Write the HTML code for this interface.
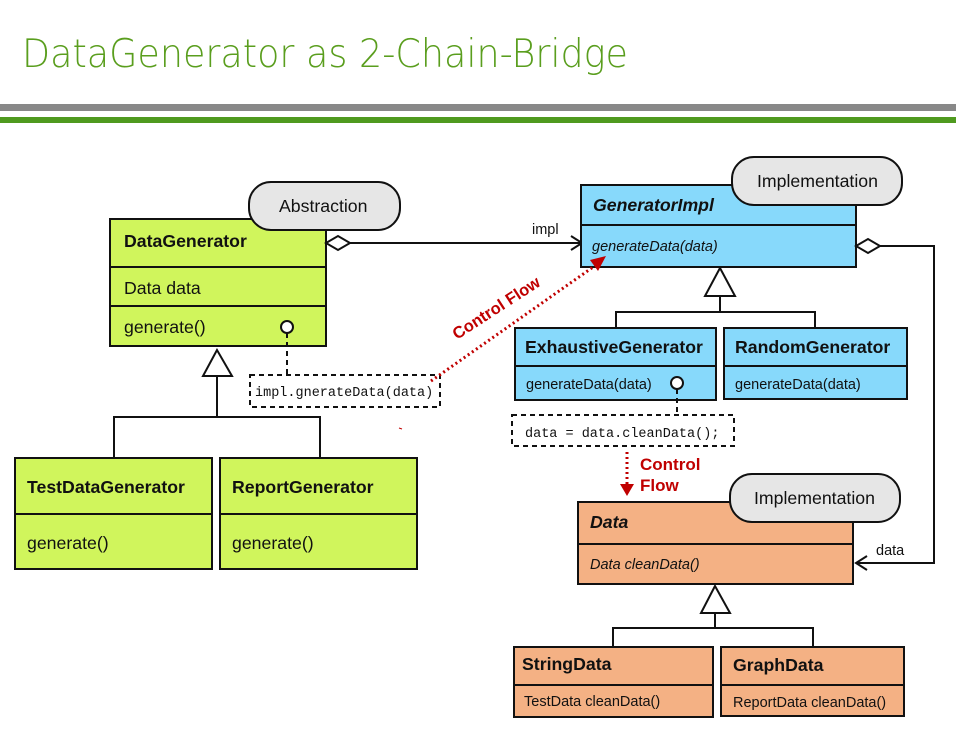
<!DOCTYPE html>
<html><head><meta charset="utf-8"><style>
html,body{margin:0;padding:0;background:#fff}
svg{display:block}
text{font-family:"Liberation Sans",sans-serif}
.m{font-family:"Liberation Mono",monospace}
</style></head><body>
<svg width="956" height="743" viewBox="0 0 956 743" xmlns="http://www.w3.org/2000/svg">
<text x="22" y="67" font-size="39" font-weight="300" fill="#5a9e1e" textLength="606" lengthAdjust="spacingAndGlyphs" style="font-family:'DejaVu Sans',sans-serif">DataGenerator as 2-Chain-Bridge</text>
<rect x="0" y="104" width="956" height="7" fill="#888"/>
<rect x="0" y="117" width="956" height="6" fill="#4f9a1f"/>

<g stroke="#111" stroke-width="2" fill="none">
<rect x="110" y="219" width="216" height="127" fill="#d0f55c"/>
<line x1="110" y1="267" x2="326" y2="267"/><line x1="110" y1="306" x2="326" y2="306"/>
<polygon points="217,350 203,376 232,376" fill="#fff"/>
<polyline points="217,376 217,417"/>
<polyline points="114,458 114,417 320,417 320,458"/>
<rect x="15" y="458" width="197" height="111" fill="#d0f55c"/><line x1="15" y1="514" x2="212" y2="514"/>
<rect x="220" y="458" width="197" height="111" fill="#d0f55c"/><line x1="220" y1="514" x2="417" y2="514"/>
<polygon points="326,243 338,236 350,243 338,250" fill="#fff"/>
<line x1="350" y1="243" x2="582" y2="243"/>
<polyline points="571,236 582,243 571,250"/>
<circle cx="287" cy="327" r="6" fill="#fff"/>
<line x1="287" y1="333" x2="287" y2="375" stroke-dasharray="5,4"/>
<rect x="250" y="375" width="190" height="32" fill="#fff" stroke-dasharray="5,4"/>
<rect x="581" y="185" width="275" height="82" fill="#87d9fb"/><line x1="581" y1="225" x2="856" y2="225"/>
<polygon points="720,268 705,296 735,296" fill="#fff"/>
<line x1="720" y1="296" x2="720" y2="312"/>
<polyline points="616,328 616,312 815,312 815,328"/>
<rect x="515" y="328" width="201" height="72" fill="#87d9fb"/><line x1="515" y1="366" x2="716" y2="366"/>
<rect x="724" y="328" width="183" height="71" fill="#87d9fb"/><line x1="724" y1="366" x2="907" y2="366"/>
<circle cx="677" cy="383" r="6" fill="#fff"/>
<line x1="677" y1="389" x2="677" y2="415" stroke-dasharray="5,4"/>
<rect x="512" y="415" width="222" height="31" fill="#fff" stroke-dasharray="5,4"/>
<polygon points="856,246 868,239 880,246 868,253" fill="#fff"/>
<polyline points="880,246 934,246 934,563 856,563"/>
<polyline points="867,556 856,563 867,570"/>
<rect x="578" y="502" width="275" height="82" fill="#f4b184"/><line x1="578" y1="544" x2="853" y2="544"/>
<polygon points="715,586 701,613 730,613" fill="#fff"/>
<line x1="715" y1="613" x2="715" y2="628"/>
<polyline points="613,647 613,628 813,628 813,647"/>
<rect x="514" y="647" width="199" height="70" fill="#f4b184"/><line x1="514" y1="685" x2="713" y2="685"/>
<rect x="721" y="647" width="183" height="69" fill="#f4b184"/><line x1="721" y1="685" x2="904" y2="685"/>
<rect x="249" y="182" width="151" height="48" rx="22" fill="#e6e6e6"/>
<rect x="732" y="157" width="170" height="48" rx="22" fill="#e6e6e6"/>
<rect x="730" y="474" width="170" height="48" rx="22" fill="#e6e6e6"/>
</g>

<g stroke="#c00000" stroke-width="3" stroke-dasharray="2,3" fill="none">
<line x1="431" y1="381" x2="596" y2="265"/>
<line x1="627" y1="452" x2="627" y2="484"/>
</g>
<polygon points="606,256 590,260 598,271" fill="#c00000"/>
<polygon points="620,484 634,484 627,496" fill="#c00000"/>
<text x="0" y="0" font-size="16.5" font-weight="bold" fill="#c00000" transform="translate(457,340) rotate(-33)">Control Flow</text>
<text x="640" y="470" font-size="17" font-weight="bold" fill="#c00000">Control</text>
<text x="640" y="491" font-size="17" font-weight="bold" fill="#c00000">Flow</text>
<line x1="399" y1="428" x2="402" y2="429" stroke="#c00000" stroke-width="1"/>

<g font-size="17.7" fill="#111">
<text x="279" y="212">Abstraction</text>
<text x="757" y="187">Implementation</text>
<text x="754" y="504">Implementation</text>
<text x="124" y="247" font-weight="bold">DataGenerator</text>
<text x="124" y="294">Data data</text>
<text x="124" y="333">generate()</text>
<text x="27" y="493" font-weight="bold">TestDataGenerator</text>
<text x="27" y="549">generate()</text>
<text x="232" y="493" font-weight="bold">ReportGenerator</text>
<text x="232" y="549">generate()</text>
<text x="593" y="211" font-weight="bold" font-style="italic">GeneratorImpl</text>
<text x="525" y="353" font-weight="bold">ExhaustiveGenerator</text>
<text x="735" y="353" font-weight="bold">RandomGenerator</text>
<text x="590" y="528" font-weight="bold" font-style="italic">Data</text>
<text x="522" y="670" font-weight="bold">StringData</text>
<text x="733" y="671" font-weight="bold">GraphData</text>
</g>
<g font-size="14.5" fill="#111">
<text x="532" y="234">impl</text>
<text x="876" y="555">data</text>
<text x="592" y="251" font-style="italic">generateData(data)</text>
<text x="526" y="389">generateData(data)</text>
<text x="735" y="389">generateData(data)</text>
<text x="590" y="569" font-style="italic">Data cleanData()</text>
<text x="524" y="706">TestData cleanData()</text>
<text x="733" y="707">ReportData cleanData()</text>
<text x="255" y="396" class="m" font-size="13.5">impl.gnerateData(data)</text>
<text x="525" y="437" class="m" font-size="13.5">data = data.cleanData();</text>
</g>
</svg>
</body></html>
